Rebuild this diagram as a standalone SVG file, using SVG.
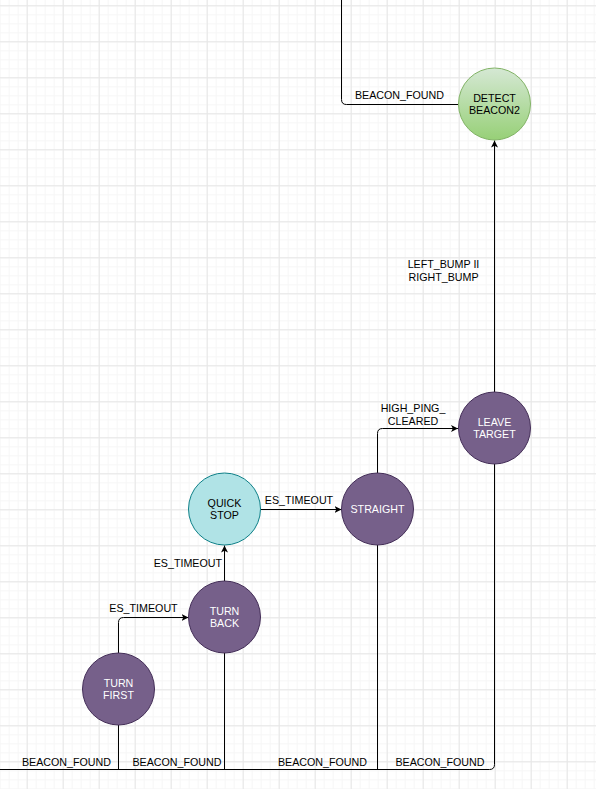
<svg xmlns="http://www.w3.org/2000/svg" width="596" height="789" viewBox="0 0 596 789">
<style>
text{font-family:"Liberation Sans",Arial,Helvetica,sans-serif;font-size:10.7px}
.lbl{fill:#000}
.node-purple circle{fill:#76608a;stroke:#432d57;stroke-width:1}
.node-purple text{fill:#fff;text-anchor:middle}
.dark text{fill:#000;text-anchor:middle}
.edge{fill:none;stroke:#000;stroke-width:1}
.arrow{marker-end:url(#arr)}
</style>
<defs>
<pattern id="minor" patternUnits="userSpaceOnUse" x="26.7" y="5.3" width="9" height="9">
<path d="M0,0.5 H9 M0.5,0 V9" stroke="#f6f6f6" stroke-width="1" fill="none"/>
</pattern>
<pattern id="major" patternUnits="userSpaceOnUse" x="26.7" y="5.3" width="36" height="36">
<path d="M0,0.5 H36 M0.5,0 V36" stroke="#e6e6e6" stroke-width="1" fill="none"/>
</pattern>
<linearGradient id="green" x1="0" y1="0" x2="0" y2="1">
<stop offset="0" stop-color="#d5e8d4"/>
<stop offset="1" stop-color="#97d077"/>
</linearGradient>
<marker id="arr" markerUnits="userSpaceOnUse" markerWidth="8" markerHeight="8" refX="7" refY="3.5" orient="auto">
<path d="M0,0 L7,3.5 L0,7 L1.8,3.5 z" fill="#000"/>
</marker>
</defs>
<rect width="596" height="789" fill="#fff"/>
<rect width="596" height="789" fill="url(#minor)"/>
<rect width="596" height="789" fill="url(#major)"/>

<g id="connectors">
<path class="edge" d="M341.5,0 V99.5 Q341.5,104.5 346.5,104.5 H458"/>
<path class="edge" d="M118.5,725 V769.5"/>
<path class="edge" d="M224.5,653 V769.5"/>
<path class="edge" d="M377.5,545 V769.5"/>
<path class="edge" d="M494.5,464 V764.5 Q494.5,769.5 489.5,769.5 H0"/>
<path class="edge arrow" d="M118.5,653 V622.5 Q118.5,617.5 123.5,617.5 H188.5"/>
<path class="edge arrow" d="M224.5,581 V545.5"/>
<path class="edge arrow" d="M260.5,509.5 H341.5"/>
<path class="edge arrow" d="M377.5,473 V433.5 Q377.5,428.5 382.5,428.5 H458"/>
<path class="edge arrow" d="M494.5,392 V140.5"/>
<text class="lbl" x="399.5" y="99" text-anchor="middle">BEACON_FOUND</text>
<text class="lbl" x="66.5" y="765.5" text-anchor="middle">BEACON_FOUND</text>
<text class="lbl" x="177" y="765.5" text-anchor="middle">BEACON_FOUND</text>
<text class="lbl" x="322.5" y="765.5" text-anchor="middle">BEACON_FOUND</text>
<text class="lbl" x="440" y="765.5" text-anchor="middle">BEACON_FOUND</text>
<text class="lbl" x="143.5" y="612" text-anchor="middle">ES_TIMEOUT</text>
<text class="lbl" x="222" y="567" text-anchor="end">ES_TIMEOUT</text>
<text class="lbl" x="299" y="504" text-anchor="middle">ES_TIMEOUT</text>
<text class="lbl" x="413" y="412" text-anchor="middle">HIGH_PING_</text>
<text class="lbl" x="413" y="425" text-anchor="middle">CLEARED</text>
<text class="lbl" x="443.5" y="268" text-anchor="middle">LEFT_BUMP II</text>
<text class="lbl" x="443.5" y="280.5" text-anchor="middle">RIGHT_BUMP</text>
</g>

<g id="detect-beacon2" class="dark">
<circle cx="494.5" cy="104" r="36" fill="url(#green)" stroke="#82b366"/>
<text x="494.5" y="102.3">DETECT</text>
<text x="494.5" y="114">BEACON2</text>
</g>
<g id="leave-target" class="node-purple">
<circle cx="494.5" cy="428" r="36"/>
<text x="494.5" y="426.3">LEAVE</text>
<text x="494.5" y="438">TARGET</text>
</g>
<g id="straight" class="node-purple">
<circle cx="377.5" cy="509" r="36"/>
<text x="377.5" y="513">STRAIGHT</text>
</g>
<g id="quick-stop" class="dark">
<circle cx="224.5" cy="509" r="36" fill="#b0e3e6" stroke="#0e8088"/>
<text x="224.5" y="507.3">QUICK</text>
<text x="224.5" y="519">STOP</text>
</g>
<g id="turn-back" class="node-purple">
<circle cx="224.5" cy="617" r="36"/>
<text x="224.5" y="615.3">TURN</text>
<text x="224.5" y="627">BACK</text>
</g>
<g id="turn-first" class="node-purple">
<circle cx="118.5" cy="689" r="36"/>
<text x="118.5" y="687.3">TURN</text>
<text x="118.5" y="699">FIRST</text>
</g>
</svg>
